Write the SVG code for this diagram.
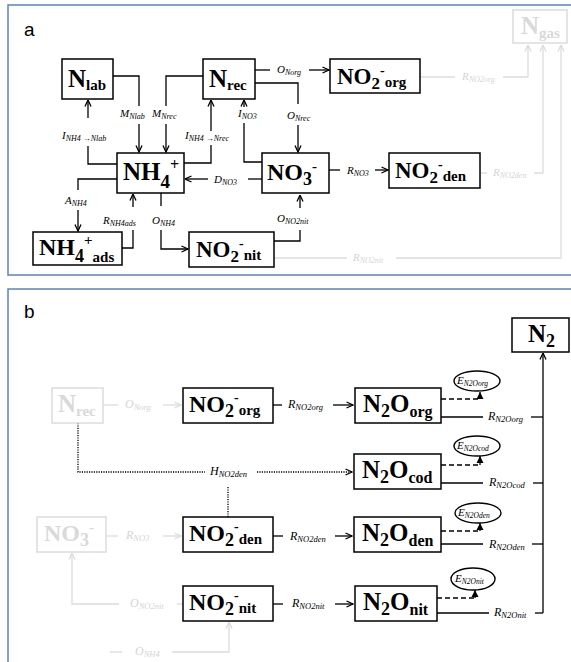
<svg xmlns="http://www.w3.org/2000/svg" width="571" height="662" viewBox="0 0 571 662">
<style>
.frame{fill:none;stroke:#5a82c2;stroke-width:1.5}
.box{fill:#fff;stroke:#000;stroke-width:1.5}
.gbox{fill:#fff;stroke:#dcdcdc;stroke-width:1.5}
.t{font-family:"Liberation Serif",serif;font-weight:bold;fill:#000}
.gt{fill:#d9d9d9}
.l{font-family:"Liberation Serif",serif;font-style:italic;font-size:11px;fill:#000}
.lb{font-size:12px}
.gl{fill:#d4d4d4}
.s{font-size:8px}
.lb .s{font-size:8.5px}
.pl{font-family:"Liberation Sans",sans-serif;font-size:19px;fill:#000}
.c{fill:none;stroke:#000;stroke-width:1.3}
.gc{fill:none;stroke:#dcdcdc;stroke-width:1.3}
.dot{stroke-dasharray:1.2 1.2}
.dash{stroke-dasharray:5 3;stroke-width:1.5}
.ell{fill:#fff;stroke:#000;stroke-width:1.4}
</style>
<defs>
<marker id="a" viewBox="0 0 8 8" refX="7.5" refY="4" markerWidth="8" markerHeight="8" orient="auto" markerUnits="userSpaceOnUse"><path d="M1,1 L7.5,4 L1,7" fill="none" stroke="#000" stroke-width="1.3"/></marker>
<marker id="g" viewBox="0 0 8 8" refX="7.5" refY="4" markerWidth="8" markerHeight="8" orient="auto" markerUnits="userSpaceOnUse"><path d="M1,1 L7.5,4 L1,7" fill="none" stroke="#dcdcdc" stroke-width="1.3"/></marker>
<marker id="f" viewBox="0 0 8 8" refX="7" refY="4" markerWidth="8" markerHeight="8" orient="auto" markerUnits="userSpaceOnUse"><path d="M0,0.5 L7,4 L0,7.5 Z" fill="#000"/></marker>
</defs>
<rect width="571" height="662" fill="#fff"/>

<!-- Panel a -->
<g id="panel-a">
<rect class="frame" x="8" y="5" width="600" height="270"/>
<text class="pl" x="24" y="36">a</text>
</g>

<g id="connectors-a">
<path class="c" d="M113,76 H139 V106"/><path class="c" d="M139,124 V152" marker-end="url(#a)"/>
<path class="c" d="M203,76 H166 V106"/><path class="c" d="M166,124 V152" marker-end="url(#a)"/>
<path class="c" d="M117,164 H88 V146"/><path class="c" d="M88,118 V100" marker-end="url(#a)"/>
<path class="c" d="M184,163 H211 V145"/><path class="c" d="M211,131 V100" marker-end="url(#a)"/>
<path class="c" d="M262,162 H244 V123"/><path class="c" d="M244,107 V100" marker-end="url(#a)"/>
<path class="c" d="M262,179 H248"/><path class="c" d="M208,179 H185" marker-end="url(#a)"/>
<path class="c" d="M255,70 H270"/><path class="c" d="M309,70 H329" marker-end="url(#a)"/>
<path class="c" d="M255,83 H298 V104"/><path class="c" d="M298,125 V152" marker-end="url(#a)"/>
<path class="c" d="M329,170 H340"/><path class="c" d="M375,170 H388" marker-end="url(#a)"/>
<path class="c" d="M274,241 H300 V230"/><path class="c" d="M300,208 V195" marker-end="url(#a)"/>
<path class="c" d="M161,193 V206"/><path class="c" d="M161,230 V249 H188" marker-end="url(#a)"/>
<path class="c" d="M117,179 H78 V190"/><path class="c" d="M78,210 V231" marker-end="url(#a)"/>
<path class="c" d="M122,248 H133 V230"/><path class="c" d="M133,207 V194" marker-end="url(#a)"/>
<path class="gc" d="M420,77 H455"/><path class="gc" d="M503,77 H528 V45" marker-end="url(#g)"/>
<path class="gc" d="M480,173 H487"/><path class="gc" d="M534,173 H543 V45" marker-end="url(#g)"/>
<path class="gc" d="M274,258 H347"/><path class="gc" d="M396,258 H561 V45" marker-end="url(#g)"/>
<text class="l" x="120" y="117">M<tspan class="s" dy="2">Nlab</tspan></text>
<text class="l" x="152" y="117">M<tspan class="s" dy="2">Nrec</tspan></text>
<text class="l" x="62" y="139">I<tspan class="s" dy="2">NH4 →Nlab</tspan></text>
<text class="l" x="185" y="139">I<tspan class="s" dy="2">NH4 →Nrec</tspan></text>
<text class="l" x="238" y="117">I<tspan class="s" dy="2">NO3</tspan></text>
<text class="l" x="277" y="73">O<tspan class="s" dy="2">Norg</tspan></text>
<text class="l" x="287" y="119">O<tspan class="s" dy="2">Nrec</tspan></text>
<text class="l" x="214" y="183">D<tspan class="s" dy="2">NO3</tspan></text>
<text class="l" x="347" y="174">R<tspan class="s" dy="2">NO3</tspan></text>
<text class="l" x="277" y="222">O<tspan class="s" dy="2">NO2nit</tspan></text>
<text class="l" x="65" y="204">A<tspan class="s" dy="2">NH4</tspan></text>
<text class="l" x="103" y="224">R<tspan class="s" dy="2">NH4ads</tspan></text>
<text class="l" x="152" y="224">O<tspan class="s" dy="2">NH4</tspan></text>
<text class="l gl" x="462" y="80">R<tspan class="s" dy="2">NO2org</tspan></text>
<text class="l gl" x="493" y="176">R<tspan class="s" dy="2">NO2den</tspan></text>
<text class="l gl" x="353" y="261">R<tspan class="s" dy="2">NO2nit</tspan></text>
</g>

<g id="Nlab"><rect class="box" x="62" y="59" width="51" height="40"/><text class="t" x="68" y="87"><tspan font-size="25">N</tspan><tspan font-size="15" dy="3">lab</tspan></text></g>
<g id="Nrec"><rect class="box" x="203" y="59" width="52" height="40"/><text class="t" x="209" y="87"><tspan font-size="25">N</tspan><tspan font-size="15" dy="3">rec</tspan></text></g>
<g id="NO2org"><rect class="box" x="330" y="59" width="90" height="34"/><text class="t" x="337" y="84"><tspan font-size="23">NO</tspan><tspan font-size="17" dy="5">2</tspan><tspan font-size="14" dy="-14">-</tspan><tspan font-size="15" dy="12">org</tspan></text></g>
<g id="Ngas"><rect class="gbox" x="513" y="10" width="54" height="33"/><text class="t gt" x="521" y="34"><tspan font-size="25">N</tspan><tspan font-size="15" dy="4">gas</tspan></text></g>
<g id="NH4"><rect class="box" x="117" y="153" width="67" height="40"/><text class="t" x="123" y="180"><tspan font-size="25">NH</tspan><tspan font-size="19" dy="8">4</tspan><tspan font-size="16" dy="-18">+</tspan></text></g>
<g id="NO3"><rect class="box" x="262" y="153" width="67" height="40"/><text class="t" x="267" y="180"><tspan font-size="24">NO</tspan><tspan font-size="18" dy="5">3</tspan><tspan font-size="15" dy="-14">-</tspan></text></g>
<g id="NO2den"><rect class="box" x="389" y="153" width="91" height="35"/><text class="t" x="395" y="178"><tspan font-size="23">NO</tspan><tspan font-size="17" dy="5">2</tspan><tspan font-size="14" dy="-14">-</tspan><tspan font-size="15" dy="12">den</tspan></text></g>
<g id="NH4ads"><rect class="box" x="33" y="232" width="89" height="33"/><text class="t" x="39" y="255"><tspan font-size="24">NH</tspan><tspan font-size="18" dy="7">4</tspan><tspan font-size="15" dy="-17">+</tspan><tspan font-size="15" dy="17">ads</tspan></text></g>
<g id="NO2nit"><rect class="box" x="189" y="232" width="85" height="35"/><text class="t" x="196" y="257"><tspan font-size="23">NO</tspan><tspan font-size="17" dy="5">2</tspan><tspan font-size="14" dy="-14">-</tspan><tspan font-size="15" dy="12">nit</tspan></text></g>

<!-- Panel b -->
<g id="panel-b">
<rect class="frame" x="8" y="289" width="600" height="400"/>
<text class="pl" x="24" y="318">b</text>
</g>

<g id="connectors-b">
<path class="gc" d="M103,405 H118"/><path class="gc" d="M163,405 H181" marker-end="url(#g)"/>
<path class="c" d="M273,405 H282"/><path class="c" d="M333,405 H353" marker-end="url(#a)"/>
<path class="c dash" d="M441,399 H480"/><path class="c" d="M480,399 V392" marker-end="url(#f)"/>
<path class="c" d="M441,417 H483"/><path class="c" d="M531,417 H543"/>
<path class="c" d="M543,613 V353" marker-end="url(#a)"/>
<path class="c dot" d="M78,423 V472 H205"/><path class="c dot" d="M257,472 H352" marker-end="url(#a)"/>
<path class="c dot" d="M228,487 V517"/>
<path class="c dash" d="M441,465 H480"/><path class="c" d="M480,465 V456" marker-end="url(#f)"/>
<path class="c" d="M441,483 H483"/><path class="c" d="M533,483 H543"/>
<path class="gc" d="M106,536 H118"/><path class="gc" d="M163,536 H181" marker-end="url(#g)"/>
<path class="c" d="M273,536 H283"/><path class="c" d="M335,536 H352" marker-end="url(#a)"/>
<path class="c dash" d="M441,531 H480"/><path class="c" d="M480,531 V523" marker-end="url(#f)"/>
<path class="c" d="M441,544 H483"/><path class="c" d="M532,544 H543"/>
<path class="gc" d="M183,604 H177"/><path class="gc" d="M119,604 H72 V553" marker-end="url(#g)"/>
<path class="gc" d="M110,652 H122"/><path class="gc" d="M172,652 H229 V622" marker-end="url(#g)"/>
<path class="c" d="M273,604 H283"/><path class="c" d="M335,604 H353" marker-end="url(#a)"/>
<path class="c dash" d="M437,598 H475"/><path class="c" d="M475,598 V590" marker-end="url(#f)"/>
<path class="c" d="M437,613 H489"/><path class="c" d="M535,613 H543"/>
<text class="l gl lb" x="125" y="408">O<tspan class="s" dy="2">Norg</tspan></text>
<text class="l lb" x="288" y="408">R<tspan class="s" dy="2">NO2org</tspan></text>
<text class="l lb" x="210" y="475">H<tspan class="s" dy="2">NO2den</tspan></text>
<text class="l lb" x="290" y="540">R<tspan class="s" dy="2">NO2den</tspan></text>
<text class="l lb" x="292" y="607">R<tspan class="s" dy="2">NO2nit</tspan></text>
<text class="l gl lb" x="126" y="539">R<tspan class="s" dy="2">NO3</tspan></text>
<text class="l gl lb" x="130" y="607">O<tspan class="s" dy="2">NO2nit</tspan></text>
<text class="l gl lb" x="135" y="655">O<tspan class="s" dy="2">NH4</tspan></text>
<text class="l lb" x="488" y="420">R<tspan class="s" dy="2">N2Oorg</tspan></text>
<text class="l lb" x="489" y="486">R<tspan class="s" dy="2">N2Ocod</tspan></text>
<text class="l lb" x="489" y="548">R<tspan class="s" dy="2">N2Oden</tspan></text>
<text class="l lb" x="494" y="616">R<tspan class="s" dy="2">N2Onit</tspan></text>
</g>

<g id="EN2Oorg"><ellipse class="ell" cx="477" cy="381" rx="23" ry="10"/><text class="l" x="457" y="384" font-size="11">E<tspan font-size="7.5" dy="2">N2Oorg</tspan></text></g>
<g id="EN2Ocod"><ellipse class="ell" cx="477" cy="446" rx="23" ry="10"/><text class="l" x="457" y="449" font-size="11">E<tspan font-size="7.5" dy="2">N2Ocod</tspan></text></g>
<g id="EN2Oden"><ellipse class="ell" cx="478" cy="513" rx="23" ry="10"/><text class="l" x="458" y="516" font-size="11">E<tspan font-size="7.5" dy="2">N2Oden</tspan></text></g>
<g id="EN2Onit"><ellipse class="ell" cx="473" cy="579" rx="22" ry="11"/><text class="l" x="455" y="582" font-size="11">E<tspan font-size="7.5" dy="2">N2Onit</tspan></text></g>

<g id="Nrec-b"><rect class="gbox" x="52" y="388" width="51" height="35"/><text class="t gt" x="58" y="412"><tspan font-size="25">N</tspan><tspan font-size="15" dy="4">rec</tspan></text></g>
<g id="NO2org-b"><rect class="box" x="183" y="388" width="90" height="35"/><text class="t" x="189" y="412"><tspan font-size="24">NO</tspan><tspan font-size="18" dy="5">2</tspan><tspan font-size="14" dy="-15">-</tspan><tspan font-size="15" dy="13">org</tspan></text></g>
<g id="N2Oorg"><rect class="box" x="355" y="388" width="86" height="35"/><text class="t" x="363" y="412"><tspan font-size="25">N</tspan><tspan font-size="18" dy="5">2</tspan><tspan font-size="25" dy="-5">O</tspan><tspan font-size="16" dy="5">org</tspan></text></g>
<g id="N2"><rect class="box" x="512" y="318" width="57" height="34"/><text class="t" x="528" y="342"><tspan font-size="25">N</tspan><tspan font-size="18" dy="5">2</tspan></text></g>
<g id="N2Ocod"><rect class="box" x="354" y="454" width="87" height="35"/><text class="t" x="362" y="478"><tspan font-size="25">N</tspan><tspan font-size="18" dy="5">2</tspan><tspan font-size="25" dy="-5">O</tspan><tspan font-size="16" dy="5">cod</tspan></text></g>
<g id="NO3-b"><rect class="gbox" x="37" y="517" width="69" height="35"/><text class="t gt" x="44" y="541"><tspan font-size="24">NO</tspan><tspan font-size="18" dy="5">3</tspan><tspan font-size="15" dy="-14">-</tspan></text></g>
<g id="NO2den-b"><rect class="box" x="183" y="517" width="90" height="35"/><text class="t" x="189" y="541"><tspan font-size="24">NO</tspan><tspan font-size="18" dy="5">2</tspan><tspan font-size="14" dy="-15">-</tspan><tspan font-size="15" dy="13">den</tspan></text></g>
<g id="N2Oden"><rect class="box" x="354" y="517" width="87" height="35"/><text class="t" x="362" y="541"><tspan font-size="25">N</tspan><tspan font-size="18" dy="5">2</tspan><tspan font-size="25" dy="-5">O</tspan><tspan font-size="16" dy="5">den</tspan></text></g>
<g id="NO2nit-b"><rect class="box" x="183" y="586" width="90" height="35"/><text class="t" x="189" y="610"><tspan font-size="24">NO</tspan><tspan font-size="18" dy="5">2</tspan><tspan font-size="14" dy="-15">-</tspan><tspan font-size="15" dy="13">nit</tspan></text></g>
<g id="N2Onit"><rect class="box" x="355" y="586" width="82" height="35"/><text class="t" x="363" y="610"><tspan font-size="25">N</tspan><tspan font-size="18" dy="5">2</tspan><tspan font-size="25" dy="-5">O</tspan><tspan font-size="16" dy="5">nit</tspan></text></g>
</svg>
